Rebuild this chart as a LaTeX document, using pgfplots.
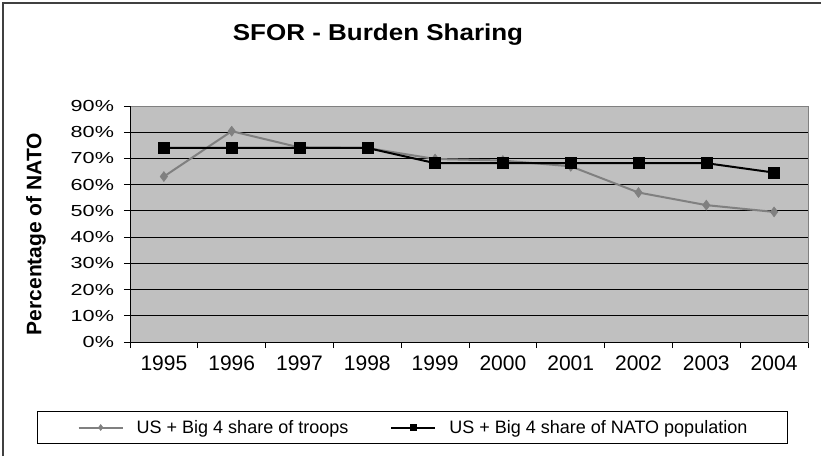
\documentclass[border=0pt]{standalone}
\usepackage{pgfplots}
\pgfplotsset{compat=1.18}
\usepackage{fontspec}
\setmainfont{Liberation Sans}
\newfontfamily\titlefont[FakeStretch=1.13]{Liberation Sans}
\newfontfamily\widefont[FakeStretch=1.35]{Liberation Sans}
\definecolor{plotbg}{RGB}{192,192,192}
\definecolor{troop}{RGB}{128,128,128}
\begin{document}
\begin{tikzpicture}[x=1pt,y=1pt]
\useasboundingbox (0,0) rectangle (821,456);
\fill[white] (0,0) rectangle (821,456);
\draw[line width=2pt, black!75] (3,0) -- (3,453) -- (821,453);
\node[font=\titlefont\bfseries\fontsize{23}{27}\selectfont] at (378,421) {SFOR - Burden Sharing};
\begin{axis}[
  at={(130pt,114pt)}, anchor=south west,
  width=678pt, height=236pt, scale only axis,
  xmin=-0.5, xmax=9.5, ymin=0, ymax=90,
  xtick={0,...,9},
  xticklabels={1995,1996,1997,1998,1999,2000,2001,2002,2003,2004},
  minor xtick={-0.5,0.5,...,9.5},
  ytick={0,10,...,90},
  yticklabel={\pgfmathprintnumber{\tick}\%},
  /pgf/number format/assume math mode=true,
  tick align=outside,
  major tick length=6pt, minor tick length=6pt,
  major x tick style={draw=none},
  tick style={black, line width=0.8pt},
  minor tick style={black, line width=0.8pt},
  xtick pos=bottom, ytick pos=left,
  ymajorgrids, major grid style={black, line width=0.8pt},
  axis background/.style={fill=plotbg},
  axis line style={troop, line width=0.8pt},
  xticklabel style={font=\fontsize{21}{24}\selectfont, yshift=-4pt},
  yticklabel style={font=\widefont\fontsize{16}{19}\selectfont, xshift=-6.5pt},
  ylabel={Percentage of NATO},
  ylabel style={font=\bfseries\fontsize{21}{24}\selectfont, at={(axis description cs:-0.1386,0.458)}, anchor=center},
  legend columns=2,
  legend style={at={(axis description cs:0.4167,-0.3623)}, anchor=center, draw=black, line width=0.8pt,
    font=\fontsize{18}{21}\selectfont, inner xsep=40pt, inner ysep=9pt,
    nodes={inner sep=0pt},
    /tikz/every odd column/.append style={column sep=13pt},
    /tikz/every even column/.append style={column sep=42pt}},
  legend image code/.code={\draw[mark repeat=2,mark phase=2,#1,mark size=3pt] plot coordinates {(0pt,0pt) (22pt,0pt) (44pt,0pt)};},
]
\draw[black, line width=0.8pt] (rel axis cs:0,1) -- (rel axis cs:0,0) -- (rel axis cs:1,0);
\addplot[troop, line width=2pt, mark=diamond*, mark size=5pt, mark options={fill=troop, line width=0.5pt}]
  coordinates {(0,63.1) (1,80.4) (2,74.2) (3,74.0) (4,69.8) (5,69.2) (6,67.0) (7,57.0) (8,52.2) (9,49.6)};
\addlegendentry{US + Big 4 share of troops}
\addplot[black, line width=2pt, mark=square*, mark size=5.5pt, mark options={fill=black, line width=0.5pt}]
  coordinates {(0,74.0) (1,74.0) (2,74.0) (3,74.0) (4,68.2) (5,68.2) (6,68.2) (7,68.2) (8,68.2) (9,64.6)};
\addlegendentry{US + Big 4 share of NATO population}
\end{axis}
\end{tikzpicture}
\end{document}
